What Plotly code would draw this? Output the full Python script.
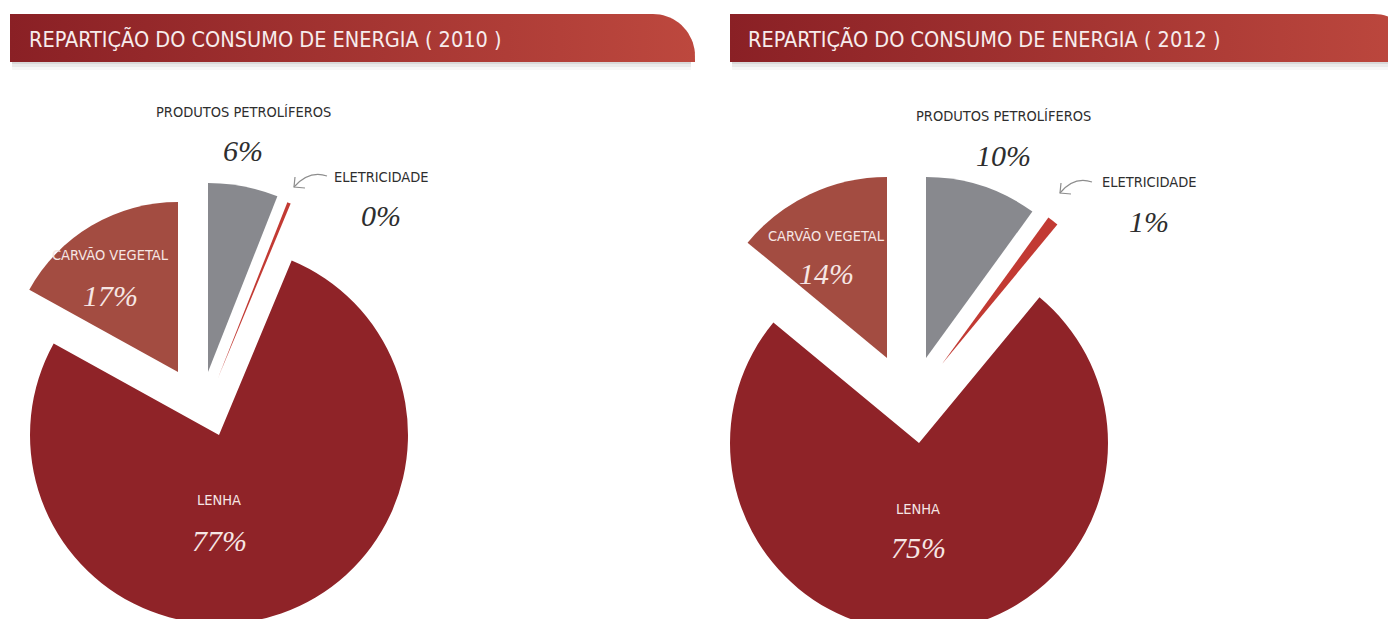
import numpy as np
import plotly.graph_objects as go

W, H = 1396, 640
OFF = 8  # page body margin: reference pixel (x, y) sits at figure pixel (x-OFF, y-OFF)

# ---------------- data ----------------
categories = ["PRODUTOS PETROLÍFEROS", "ELETRICIDADE", "LENHA", "CARVÃO VEGETAL"]
values_2010 = [6, 0.3, 77, 17]
values_2012 = [10, 1, 75, 14]
pct_labels_2010 = ["6%", "0%", "77%", "17%"]
pct_labels_2012 = ["10%", "1%", "75%", "14%"]
titles = ["REPARTIÇÃO DO CONSUMO DE ENERGIA ( 2010 )",
          "REPARTIÇÃO DO CONSUMO DE ENERGIA ( 2012 )"]

# ---------------- styling / layout ----------------
slice_colors = ["#88898e", "#c23a33", "#8f2328", "#a34c41"]
NARROW = "Liberation Sans Narrow, DejaVu Sans Condensed, Arial Narrow, sans-serif"
SERIF = "Liberation Serif, DejaVu Serif, serif"
DARK = "#2e2e2e"
LIGHT = "#f6e6e4"

panels = [
    dict(values=values_2010, pcts=pct_labels_2010, title=titles[0],
         apex=[(208, 372, 189), (218, 378, 189), (219, 435, 189), (178, 372, 189)],
         label_pos=[(243, 112), (381, 177), (219, 500), (110, 255)],
         pct_pos=[(243, 150), (381, 215), (219, 540), (110, 295)],
         bar=(10, 695), title_x=27,
         arrow=((327, 176), (309, 170), (294, 187))),
    dict(values=values_2012, pcts=pct_labels_2012, title=titles[1],
         apex=[(926, 358, 181), (942, 364, 181), (919, 443, 189), (887, 358, 181)],
         label_pos=[(1003, 116), (1149, 182), (918, 509), (826, 236)],
         pct_pos=[(1003, 155), (1149, 221), (918, 547), (826, 273)],
         bar=(730, 1416), title_x=746,
         arrow=((1092, 182), (1074, 176), (1060, 193))),
]
label_colors = [DARK, DARK, LIGHT, LIGHT]

fig = go.Figure()
shapes = []
annotations = []

for p in panels:
    # ---- title bar (gradient filled polygon with rounded top-right corner)
    x0, x1 = p["bar"]
    y0, y1 = 14, 62
    rad = 42
    th = np.linspace(np.pi / 2, 0, 20)
    cxr, cyr = x1 - rad, y0 + rad
    arc_x = cxr + rad * np.cos(th)
    arc_y = cyr - rad * np.sin(th)
    bx = [x0, x0] + list(arc_x) + [x1, x0]
    by = [y1, y0] + list(arc_y) + [y1, y1]
    # soft shadow under bar
    for k, a in [(2, 0.08), (5, 0.05), (8, 0.03)]:
        shapes.append(dict(type="rect", xref="x", yref="y", x0=x0 + 2, x1=x1 - 4,
                           y0=y1, y1=y1 + k, line=dict(width=0),
                           fillcolor=f"rgba(0,0,0,{a})", layer="below"))
    fig.add_trace(go.Scatter(x=bx, y=by, mode="lines", fill="toself",
                             line=dict(width=0),
                             fillgradient=dict(type="horizontal",
                                               colorscale=[[0, "#8a2025"], [1, "#bd483e"]]),
                             hoverinfo="skip", showlegend=False,
                             xaxis="x", yaxis="y"))
    annotations.append(dict(x=p["title_x"], y=39, xref="x", yref="y",
                            text=p["title"], showarrow=False, xanchor="left",
                            yanchor="middle",
                            font=dict(family=NARROW, size=21.5, color="#f7ecec")))

    # ---- pie slices, each drawn as its own exploded wedge
    for k in range(len(categories)):
        cx, cy, r = p["apex"][k]
        fx, fy = cx - OFF, cy - OFF
        r = min(r, fx, W - fx, fy, H - fy)
        cols = ["rgba(0,0,0,0)"] * len(categories)
        cols[k] = slice_colors[k]
        fig.add_trace(go.Pie(
            values=p["values"], labels=categories, sort=False,
            direction="clockwise", rotation=0,
            marker=dict(colors=cols, line=dict(width=0)),
            textinfo="none", hoverinfo="skip", showlegend=False,
            domain=dict(x=[(fx - r) / W, (fx + r) / W],
                        y=[1 - (fy + r) / H, 1 - (fy - r) / H]),
        ))
        lx, ly = p["label_pos"][k]
        px, py = p["pct_pos"][k]
        annotations.append(dict(x=lx, y=ly, xref="x", yref="y", text=categories[k],
                                showarrow=False, xanchor="center", yanchor="middle",
                                font=dict(family=NARROW, size=14.5, color=label_colors[k])))
        annotations.append(dict(x=px, y=py, xref="x", yref="y", text=p["pcts"][k],
                                showarrow=False, xanchor="center", yanchor="middle",
                                font=dict(family=SERIF, size=30, style="italic",
                                          color=label_colors[k])))

    # ---- curved arrow pointing at the electricity sliver
    (sx, sy), (qx, qy), (tx, ty) = p["arrow"]
    shapes.append(dict(type="path", xref="x", yref="y",
                       path=f"M {sx} {sy} Q {qx} {qy} {tx} {ty}",
                       line=dict(color="#8d8d8d", width=1.2), layer="above"))
    shapes.append(dict(type="path", xref="x", yref="y",
                       path=f"M {tx + 1} {ty - 10} L {tx} {ty} L {tx + 11} {ty + 1}",
                       line=dict(color="#8d8d8d", width=1.2), layer="above"))

fig.update_layout(
    width=W, height=H,
    margin=dict(l=0, r=0, t=0, b=0),
    paper_bgcolor="white", plot_bgcolor="rgba(0,0,0,0)",
    xaxis=dict(range=[OFF, W + OFF], visible=False, fixedrange=True, domain=[0, 1]),
    yaxis=dict(range=[H + OFF, OFF], visible=False, fixedrange=True, domain=[0, 1]),
    shapes=shapes, annotations=annotations, showlegend=False,
)

fig.write_html("out.html")
